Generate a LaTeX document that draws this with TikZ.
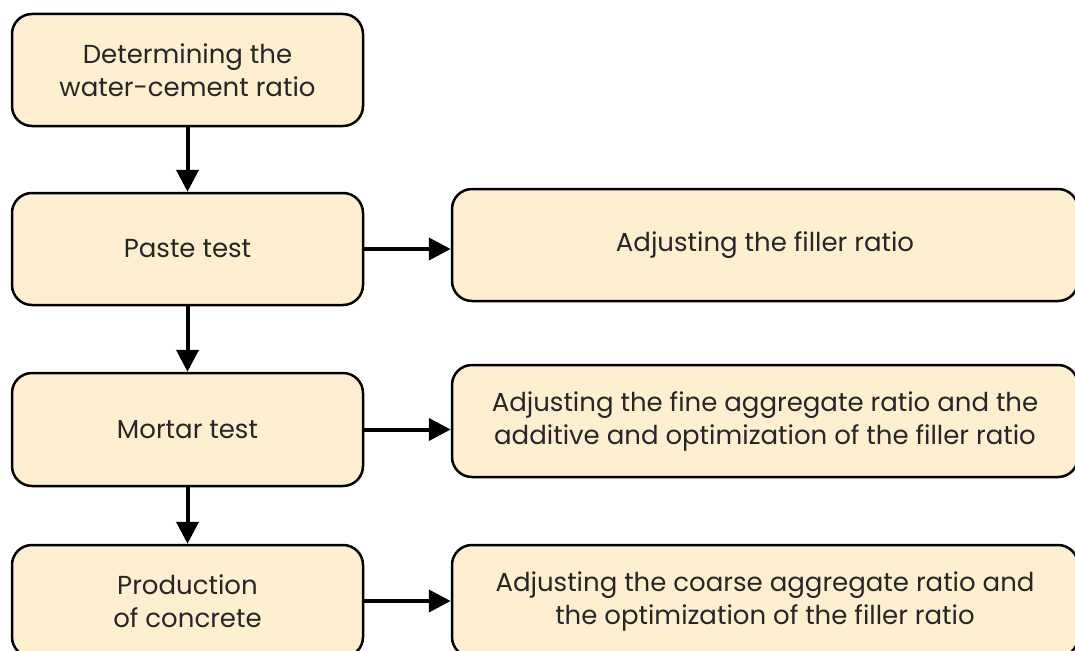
\documentclass[tikz,border=0pt]{standalone}
\usepackage{fontspec}
\setmainfont{Poppins}
\usetikzlibrary{arrows.meta}
\definecolor{boxfill}{HTML}{FFEFD1}
\definecolor{txt}{HTML}{262626}
\tikzset{
  box/.style={draw=black, fill=boxfill, line width=2.5pt, rounded corners=20pt,
    align=center, text=txt, font=\fontsize{26}{33}\selectfont, inner sep=0pt},
  lbox/.style={box, minimum width=351pt},
  rbox/.style={box, minimum width=626pt},
  flow/.style={line width=4pt, -{Triangle[length=22pt,width=22pt]}}
}
\begin{document}
\begin{tikzpicture}[x=1pt,y=-1pt]
\useasboundingbox (0,0) rectangle (1075,650);
\node[lbox, minimum height=112pt] (b1) at (187.5,70) {Determining the\\water-cement ratio};
\node[lbox, minimum height=112pt] (b2) at (187.5,249) {Paste test};
\node[lbox, minimum height=113pt] (b3) at (187.5,429.5) {Mortar test};
\node[lbox, minimum height=112pt] (b4) at (187.5,601) {Production\\of concrete};
\node[rbox, minimum height=112pt] (r2) at (765,245) {Adjusting the filler ratio};
\node[rbox, minimum height=112pt] (r3) at (765,421) {Adjusting the fine aggregate ratio and the\\additive and optimization of the filler ratio};
\node[rbox, minimum height=112pt] (r4) at (765,601) {Adjusting the coarse aggregate ratio and\\the optimization of the filler ratio};
\draw[flow] (b1.south) -- (b2.north);
\draw[flow] (b2.south) -- (b3.north);
\draw[flow] (b3.south) -- (b4.north);
\draw[flow] (b2.east) -- (b2.east -| r2.west);
\draw[flow] (b3.east) -- (b3.east -| r3.west);
\draw[flow] (b4.east) -- (b4.east -| r4.west);
\end{tikzpicture}
\end{document}
